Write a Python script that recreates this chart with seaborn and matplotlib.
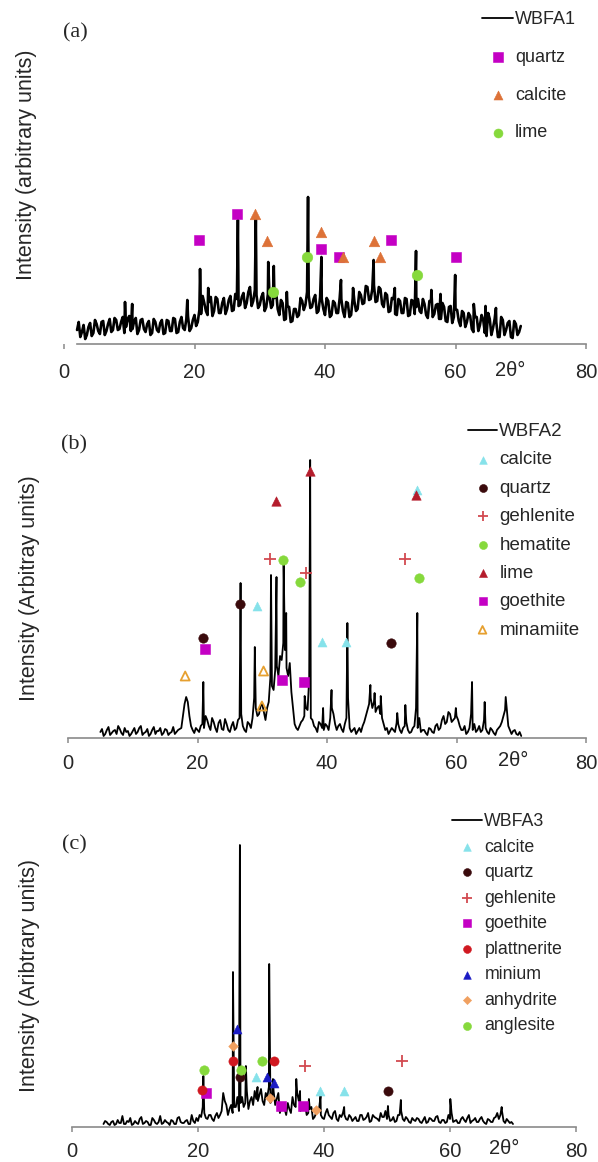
import numpy as np
import pandas as pd
import matplotlib
matplotlib.use("Agg")
import matplotlib.pyplot as plt
import seaborn as sns

sns.set_theme(style="white")
plt.rcParams['font.family'] = ['Liberation Sans', 'DejaVu Sans']

W, H = 598, 1162

# ---------------- data ----------------
# panel (a): readings on a 0.5 degree grid from 2.0, plus the in-between readings from 2.25
A_START = 2.0
A_BG = [14, 7, 19, 9, 21, 11, 20, 10, 23, 13,
        25, 14, 24, 15, 27, 17, 28, 15, 26, 14,
        25, 12, 23, 11, 22, 12, 24, 11, 23, 13,
        25, 12, 27, 14, 28, 16, 29, 22, 30, 41,
        29, 47, 33, 45, 31, 46, 35, 48, 34, 45,
        39, 51, 41, 57, 43, 49, 39, 51, 37, 47,
        39, 53, 29, 41, 25, 37, 23, 35, 29, 43,
        39, 49, 37, 49, 33, 45, 29, 43, 29, 41,
        31, 45, 27, 41, 29, 43, 35, 49, 41, 57,
        45, 59, 43, 55, 37, 49, 33, 45, 29, 43,
        31, 45, 29, 43, 37, 33, 45, 29, 43, 27,
        39, 25, 41, 23, 37, 21, 35, 23, 33, 17,
        31, 15, 27, 13, 29, 11, 31, 9, 25, 7,
        27, 9, 21, 7, 23, 9, 18]
A_MID = [22, 12, 5, 17, 8, 24, 13, 22, 9, 20,
         12, 26, 14, 22, 11, 25, 13, 23, 10, 24,
         15, 20, 9, 25, 14, 21, 10, 24, 13, 26,
         11, 22, 16, 25, 13, 24, 18, 34, 48, 33,
         42, 28, 47, 31, 41, 30, 44, 33, 50, 38,
         47, 36, 52, 38, 54, 36, 47, 33, 50, 36,
         46, 35, 44, 24, 38, 22, 35, 27, 46, 34,
         52, 36, 45, 31, 47, 35, 46, 27, 43, 31,
         46, 33, 42, 27, 46, 33, 52, 40, 58, 44,
         55, 42, 57, 40, 51, 32, 46, 30, 45, 31,
         46, 28, 44, 30, 45, 31, 40, 26, 43, 30,
         40, 25, 37, 22, 38, 27, 34, 18, 31, 22,
         28, 12, 27, 19, 24, 8, 25, 16, 22, 7,
         24, 14, 23, 6, 20, 12]
A_PEAKS = [(9.35, 42), (10.45, 40), (18.9, 44), (20.85, 75), (22.1, 56),
           (26.65, 124), (29.4, 126), (31.3, 82), (32.15, 78), (34.15, 52),
           (37.4, 147), (39.45, 87), (42.45, 64), (44.3, 56), (47.45, 84),
           (50.7, 56), (53.95, 93), (56.3, 54), (57.7, 50), (59.95, 69),
           (62.8, 40), (64.6, 38), (66.2, 36)]

A_QUARTZ = [(20.7, 104), (26.5, 130), (39.4, 95), (42.2, 87), (50.1, 104), (60.0, 87)]
A_CALCITE = [(29.2, 130), (31.1, 103), (39.4, 112), (42.8, 87), (47.5, 103), (48.5, 87)]
A_LIME = [(32.1, 52), (37.2, 87), (54.05, 69)]

# panel (b)
B_START = 5.0
B_BG = [6, 2, 8, 3, 7, 4, 9, 3, 6, 2,
        7, 4, 10, 3, 6, 2, 8, 4, 7, 3,
        9, 3, 6, 4, 8, 10, 34, 36, 12, 5,
        8, 12, 10, 18, 8, 16, 6, 18, 8, 14,
        6, 16, 10, 20, 12, 6, 14, 20, 30, 24,
        34, 18, 36, 52, 68, 62, 78, 88, 62, 46,
        14, 8, 16, 22, 28, 20, 12, 6, 14, 8,
        12, 20, 24, 8, 14, 6, 20, 10, 8, 4,
        10, 12, 22, 34, 30, 26, 32, 20, 8, 4,
        10, 6, 14, 5, 12, 8, 6, 12, 10, 6,
        8, 3, 9, 5, 14, 10, 22, 16, 24, 18,
        22, 12, 8, 4, 10, 8, 6, 12, 8, 10,
        4, 8, 3, 10, 16, 28, 12, 4, 8, 3,
        2]
B_MID = [9, 4, 11, 5, 8, 12, 5, 10, 7, 4,
         10, 6, 12, 5, 9, 4, 11, 7, 10, 5,
         8, 5, 11, 6, 9, 22, 41, 22, 8, 10,
         6, 14, 22, 12, 20, 10, 15, 9, 19, 8,
         12, 8, 18, 24, 8, 16, 10, 40, 22, 32,
         26, 30, 60, 48, 72, 82, 95, 70, 75, 30,
         10, 12, 18, 30, 60, 18, 10, 16, 10, 14,
         8, 30, 14, 12, 9, 14, 40, 6, 10, 7,
         6, 16, 28, 40, 36, 30, 24, 14, 10, 7,
         8, 15, 8, 10, 16, 5, 10, 30, 20, 8,
         5, 10, 6, 12, 8, 18, 14, 26, 16, 20,
         18, 8, 12, 6, 24, 14, 8, 6, 18, 6,
         10, 5, 8, 12, 22, 30, 8, 7, 4, 6]
B_PEAKS = [(20.9, 56), (26.65, 155), (28.85, 91), (31.35, 163), (32.2, 161),
           (33.3, 178), (33.7, 125), (36.55, 42), (37.4, 278), (39.4, 30),
           (40.7, 48), (43.15, 115), (46.7, 53), (47.35, 45), (48.3, 42),
           (50.85, 25), (52.1, 33), (53.95, 125), (59.9, 30), (62.4, 56),
           (64.35, 36), (67.6, 41)]

B_CALCITE = [(53.9, 248), (29.2, 132), (39.3, 96), (43.0, 96)]
B_QUARTZ = [(20.9, 100), (26.5, 134), (49.9, 95)]
B_GEHLENITE = [(31.25, 179), (36.7, 165), (52.1, 179)]
B_HEMATITE = [(33.25, 178), (35.8, 156), (54.2, 160)]
B_LIME = [(32.1, 237), (37.3, 267), (53.8, 243)]
B_GOETHITE = [(21.2, 89), (33.1, 58), (36.5, 56)]
B_MINAMIITE = [(18.1, 62), (29.95, 32), (30.2, 67)]

# panel (c)
C_START = 5.0
C_BG = [3, 5, 2, 6, 3, 4, 11, 3, 5, 2,
        6, 3, 10, 4, 5, 2, 7, 3, 11, 4,
        5, 2, 6, 3, 10, 4, 6, 3, 12, 4,
        6, 10, 14, 8, 12, 6, 14, 12, 34, 22,
        18, 14, 20, 16, 30, 24, 18, 30, 36, 26,
        38, 22, 30, 24, 36, 28, 14, 22, 12, 18,
        30, 20, 26, 18, 22, 14, 20, 10, 16, 12,
        8, 18, 10, 14, 8, 12, 14, 8, 12, 6,
        10, 6, 12, 8, 14, 6, 10, 8, 14, 10,
        8, 6, 10, 6, 12, 8, 10, 5, 9, 6,
        8, 4, 10, 5, 8, 6, 11, 4, 7, 5,
        8, 5, 7, 4, 10, 5, 12, 6, 9, 5,
        10, 4, 8, 5, 9, 14, 12, 6, 8, 4,
        3]
C_MID = [6, 3, 5, 2, 7, 4, 3, 6, 9, 3,
         4, 8, 3, 6, 2, 9, 4, 5, 3, 7,
         4, 7, 3, 9, 5, 4, 7, 3, 6, 9,
         12, 20, 9, 12, 8, 11, 9, 16, 26, 12,
         22, 20, 30, 24, 20, 36, 26, 22, 28, 32,
         26, 34, 40, 30, 22, 34, 20, 18, 24, 14,
         22, 34, 16, 24, 12, 18, 8, 14, 20, 9,
         14, 12, 8, 16, 6, 10, 12, 7, 10, 8,
         6, 12, 7, 10, 5, 12, 9, 6, 10, 16,
         12, 7, 5, 12, 16, 6, 8, 4, 7, 9,
         5, 7, 4, 9, 6, 10, 5, 7, 4, 12,
         14, 6, 4, 8, 7, 9, 4, 7, 5, 8,
         6, 3, 7, 5, 10, 8, 16, 4, 6, 5]
C_PEAKS = [(20.85, 51), (25.55, 155), (26.65, 282), (27.6, 61), (29.45, 40),
           (31.3, 163), (31.9, 48), (35.6, 48), (36.2, 36), (37.6, 28),
           (39.45, 31), (43.2, 20), (50.15, 21), (52.2, 27), (60.05, 28),
           (68.2, 20)]

C_CALCITE = [(29.2, 50), (39.4, 36), (43.2, 36)]
C_QUARTZ = [(26.7, 50), (50.2, 36)]
C_GEHLENITE = [(37.0, 61), (52.4, 66)]
C_GOETHITE = [(21.2, 34), (33.2, 21), (36.7, 21)]
C_PLATTNERITE = [(20.6, 37), (25.5, 66), (32.0, 66)]
C_MINIUM = [(26.2, 98), (30.9, 50), (32.0, 44)]
C_ANHYDRITE = [(25.5, 81), (31.4, 29), (38.7, 17)]
C_ANGLESITE = [(20.9, 57), (26.8, 57), (30.1, 66)]

TICKS = [0, 20, 40, 60, 80]

# ---------------- colours ----------------
MAGENTA = '#C400C4'
CAL_A = '#DD7238'
GREEN = '#86D93C'
CYAN = '#86E2EA'
DARK = '#3A0A0C'
GEHL = '#D24A50'
LIME_B = '#B41C2C'
MINAM = '#E6A030'
PLATT = '#D01820'
MINIUM = '#1A1AC4'
ANHY = '#F0A060'
AXIS_GREY = '#8a8a8a'

fig = plt.figure(figsize=(W / 100, H / 100), dpi=100)


def px_axes(left, right, top, bottom):
    return fig.add_axes([left / W, 1 - bottom / H, (right - left) / W, (bottom - top) / H])


def trace_frame(start, bg, mid, peaks):
    grid = start + 0.5 * np.arange(len(bg))
    midgrid = start + 0.25 + 0.5 * np.arange(len(mid))
    xs = list(grid) + list(midgrid) + [p[0] for p in peaks]
    ys = list(bg) + list(mid) + [p[1] for p in peaks]
    return pd.DataFrame({'theta': xs, 'I': ys}).sort_values('theta')


def draw_panel(ax, start, bg, mid, peaks, name, ytop, markers, xbound0, lw, pad):
    df = trace_frame(start, bg, mid, peaks)
    sns.lineplot(data=df, x='theta', y='I', color='black', lw=lw, ax=ax,
                 label=name, estimator=None, sort=True)
    for pts, lab, mk, col, s, filled in markers:
        xs = [p[0] for p in pts]
        ys = [p[1] for p in pts]
        if mk == '+':
            sns.scatterplot(x=xs, y=ys, marker='+', s=s, color=col, linewidth=1.3,
                            ax=ax, label=lab, zorder=4)
        elif filled:
            sns.scatterplot(x=xs, y=ys, marker=mk, s=s, color=col, edgecolor=col,
                            linewidth=0.4, ax=ax, label=lab, zorder=4)
        else:
            sns.scatterplot(x=xs, y=ys, marker=mk, s=s, color=col, facecolor='none',
                            edgecolor=col, linewidth=1.3, ax=ax, label=lab, zorder=4)
    ax.set_xlim(0, 80)
    ax.set_ylim(0, ytop)
    ax.set_xticks(TICKS)
    ax.set_yticks([])
    ax.set_xlabel('')
    ax.set_ylabel('')
    for sp in ['left', 'right', 'top']:
        ax.spines[sp].set_visible(False)
    ax.spines['bottom'].set_color(AXIS_GREY)
    ax.spines['bottom'].set_linewidth(1.2)
    ax.spines['bottom'].set_bounds(xbound0, 80)
    ax.tick_params(axis='x', direction='out', length=3.5, width=1.1, color=AXIS_GREY,
                   pad=pad, labelsize=14.5, bottom=True)
    ax.patch.set_alpha(0)
    # legend line handle keeps a normal width
    return ax


def add_legend(ax, left_px, top_px, spacing, fs, hl):
    h, l = ax.get_legend_handles_labels()
    leg = ax.legend(h, l, loc='upper left', bbox_to_anchor=(left_px / W, 1 - top_px / H),
                    bbox_transform=fig.transFigure, frameon=False, fontsize=fs,
                    handlelength=hl, handletextpad=0.12, labelspacing=spacing,
                    borderpad=0, borderaxespad=0, markerscale=0.85)
    leg.get_lines()[0].set_linewidth(1.3)


YLAB_FS = 15.5
TWO_THETA_FS = 14.5

# ---------------- panel (a) ----------------
axa = px_axes(64, 586, 10, 344)
draw_panel(axa, A_START, A_BG, A_MID, A_PEAKS, 'WBFA1', 334, [
    (A_QUARTZ, 'quartz', 's', MAGENTA, 62, True),
    (A_CALCITE, 'calcite', '^', CAL_A, 58, True),
    (A_LIME, 'lime', 'o', GREEN, 58, True),
], 2, 1.9, 10)
add_legend(axa, 482, 11, 1.15, 13, 1.72)
fig.text(75 / W, 1 - 33 / H, '(a)', family='Liberation Serif', fontsize=16,
         ha='center', va='center')
fig.text(27 / W, 1 - 165 / H, 'Intensity (arbitrary units)', rotation=90,
         ha='center', va='center', fontsize=YLAB_FS)
fig.text(510 / W, 1 - 371 / H, '2θ°', ha='center', va='center', fontsize=TWO_THETA_FS)

# ---------------- panel (b) ----------------
axb = px_axes(68, 586, 410, 738)
draw_panel(axb, B_START, B_BG, B_MID, B_PEAKS, 'WBFA2', 328, [
    (B_CALCITE, 'calcite', '^', CYAN, 42, True),
    (B_QUARTZ, 'quartz', 'o', DARK, 46, True),
    (B_GEHLENITE, 'gehlenite', '+', GEHL, 85, True),
    (B_HEMATITE, 'hematite', 'o', GREEN, 46, True),
    (B_LIME, 'lime', '^', LIME_B, 46, True),
    (B_GOETHITE, 'goethite', 's', MAGENTA, 44, True),
    (B_MINAMIITE, 'minamiite', '^', MINAM, 42, False),
], 0, 1.3, 8)
add_legend(axb, 468, 423, 0.6, 13.5, 1.55)
fig.text(74 / W, 1 - 445 / H, '(b)', family='Liberation Serif', fontsize=16,
         ha='center', va='center')
fig.text(30 / W, 1 - 588 / H, 'Intensity (Arbitray units)', rotation=90,
         ha='center', va='center', fontsize=YLAB_FS)
fig.text(513 / W, 1 - 760 / H, '2θ°', ha='center', va='center', fontsize=TWO_THETA_FS)

# ---------------- panel (c) ----------------
axc = px_axes(72, 576, 790, 1127)
draw_panel(axc, C_START, C_BG, C_MID, C_PEAKS, 'WBFA3', 337, [
    (C_CALCITE, 'calcite', '^', CYAN, 42, True),
    (C_QUARTZ, 'quartz', 'o', DARK, 44, True),
    (C_GEHLENITE, 'gehlenite', '+', GEHL, 85, True),
    (C_GOETHITE, 'goethite', 's', MAGENTA, 44, True),
    (C_PLATTNERITE, 'plattnerite', 'o', PLATT, 44, True),
    (C_MINIUM, 'minium', '^', MINIUM, 42, True),
    (C_ANHYDRITE, 'anhydrite', 'D', ANHY, 24, True),
    (C_ANGLESITE, 'anglesite', 'o', GREEN, 46, True),
], 0, 1.3, 7)
add_legend(axc, 452, 813, 0.48, 12.8, 1.7)
fig.text(74 / W, 1 - 845 / H, '(c)', family='Liberation Serif', fontsize=16,
         ha='center', va='center')
fig.text(30 / W, 1 - 975 / H, 'Intensity (Aribtrary units)', rotation=90,
         ha='center', va='center', fontsize=YLAB_FS)
fig.text(504 / W, 1 - 1148 / H, '2θ°', ha='center', va='center', fontsize=TWO_THETA_FS)

fig.savefig('out.png', dpi=100)
